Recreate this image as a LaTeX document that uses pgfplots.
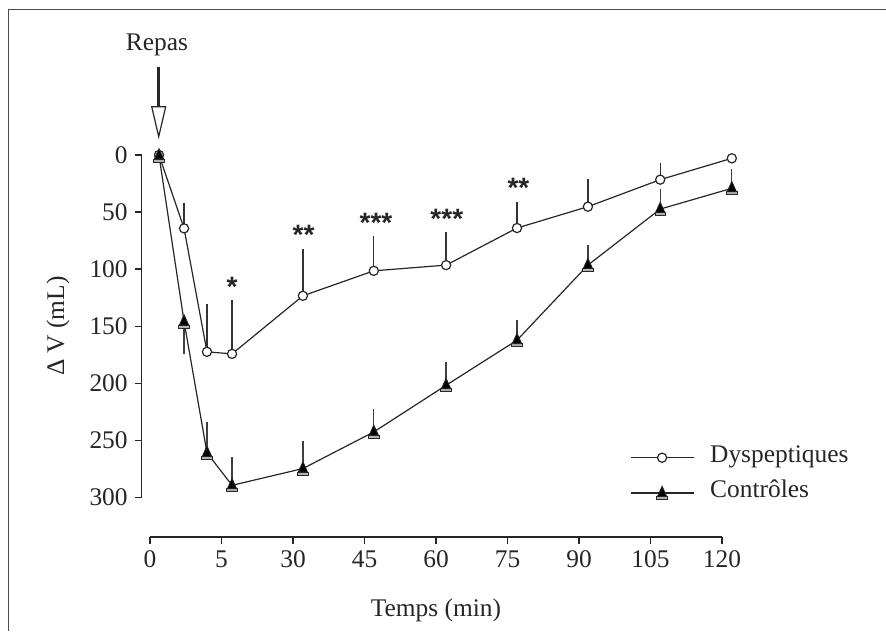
\documentclass[border=0pt]{standalone}
\usepackage{fontspec}
\setmainfont{Liberation Serif}
\newfontfamily\starfont{Liberation Sans}
\usepackage{pgfplots}
\pgfplotsset{compat=1.18}
\usepackage{pgfplotstable}

\pgfplotstableread{
u    v     ep    em
0    0     0     0
0.35 64.3  0     21.9
0.67 172.5 0     41.8
1.02 174.3 0     47
2.01 123.4 0     40.7
3.00 101.5 0     30.5
4.01 96.5  0     29
5.00 64.0  0     23
5.99 45.3  0     24.5
7.00 21.6  0     14.3
8.00 2.9   0     0
}\dysp

\pgfplotstableread{
u    v     ep    em
0    0.5   0     0
0.35 146.0 28.5  0
0.67 261.0 0     27
1.02 289.5 0     25
2.01 274.8 0     24
3.00 242.7 0     20.5
4.01 201.8 0     20
5.00 162.3 0     17.6
5.99 96.5  0     18
7.00 47.4  0     18
8.00 29.2  0     16.7
}\ctrl

\pgfdeclareplotmark{tribar}{%
  \pgfpathrectangle{\pgfpoint{-2.6pt}{-3.2pt}}{\pgfpoint{5.2pt}{1.5pt}}%
  \pgfsetfillcolor{black!30}%
  \pgfusepath{fill,stroke}%
  \pgfpathmoveto{\pgfpoint{-2.3pt}{-1.7pt}}%
  \pgfpathlineto{\pgfpoint{2.3pt}{-1.7pt}}%
  \pgfpathlineto{\pgfpoint{0pt}{3.4pt}}%
  \pgfpathclose
  \pgfsetfillcolor{black}%
  \pgfusepath{fill,stroke}%
}

\begin{document}
\begin{tikzpicture}[font=\fontsize{12.7}{15}\selectfont]
\path[use as bounding box] (0,0) rectangle (443pt,315.5pt);
\draw[black!70, line width=0.75pt] (4.15pt,0pt) -- (4.15pt,310.85pt) -- (443pt,310.85pt);

% Repas arrow
\draw[black!85, line width=1.65pt] (79.35pt,282.15pt) -- (79.35pt,262.15pt);
\draw[black!85, line width=0.6pt, fill=white] (75.85pt,262.15pt) -- (82.85pt,262.15pt) -- (79.35pt,247.15pt) -- cycle;
\node[anchor=base, text=black!85, inner sep=0pt] at (78.5pt,290.15pt) {Repas};

% x axis (separate, offset)
\begin{axis}[
  scale only axis, width=286pt, height=10pt,
  at={(75pt,47pt)}, anchor=south west,
  xmin=0, xmax=8, ymin=0, ymax=1,
  axis x line*=bottom, axis y line=none,
  xtick={0,...,8}, xticklabels={0,5,30,45,60,75,90,105,120},
  ytick=\empty,
  tick align=outside, major tick length=3.35pt,
  every tick/.style={black!85, line width=0.65pt},
  axis line style={black!85, line width=0.65pt},
  xticklabel style={text=black!85, font=\fontsize{12.7}{15}\selectfont},
  xlabel={Temps (min)},
  xlabel style={at={(rel axis cs:0.5,-3.95)}, anchor=base, text=black!85, font=\fontsize{12.7}{15}\selectfont},
]
\end{axis}

\begin{axis}[
  scale only axis, width=295.05pt, height=171.15pt,
  at={(70.85pt,66.85pt)}, anchor=south west,
  xmin=-0.2416, xmax=8, ymin=0, ymax=300, y dir=reverse,
  axis x line=none, axis y line*=left,
  xtick=\empty, ytick={0,50,...,300},
  tick align=outside, major tick length=3.5pt,
  every tick/.style={black!85, line width=0.65pt},
  axis line style={black!85, line width=0.65pt},
  yticklabel style={text=black!85, font=\fontsize{12.7}{15}\selectfont, /pgf/number format/assume math mode=true},
  ylabel={Δ V (mL)},
  ylabel style={at={(rel axis cs:-0.1418,0.5)}, anchor=center, rotate=0, text=black!85, font=\fontsize{12.7}{15}\selectfont},
  clip=false,
  legend style={at={(axis cs:6.578,280.8)}, anchor=west, draw=none, fill=none,
    inner sep=0pt, outer sep=0pt, row sep=4pt,
    font=\fontsize{12.7}{15}\selectfont, text=black!85,
    nodes={text height=0.72em, text depth=0.25em, inner sep=2pt},
    /tikz/every odd column/.append style={column sep=6pt},
    cells={anchor=west}},
  legend image code/.code={\draw[mark repeat=2,mark phase=2,#1] plot coordinates {(0pt,0pt) (15.75pt,0pt) (31.5pt,0pt)};},
]
\addplot[black!85, line width=0.6pt, mark=*, mark size=2.3pt,
  mark options={fill=white, draw=black!85, line width=0.6pt},
  error bars/.cd, y dir=both, y explicit, error mark=none,
  error bar style={black!80, line width=0.65pt}]
  table[x=u, y=v, y error plus=ep, y error minus=em] {\dysp};
\addlegendentry{Dyspeptiques}
\addplot[black!85, line width=0.6pt, mark=tribar,
  mark options={draw=black!85, line width=0.45pt},
  error bars/.cd, y dir=both, y explicit, error mark=none,
  error bar style={black!75, line width=0.65pt}]
  table[x=u, y=v, y error plus=ep, y error minus=em] {\ctrl};
\addlegendentry{Contrôles}

\node[font=\starfont\bfseries\fontsize{14}{14}\selectfont, anchor=base, text=black!85, inner sep=0pt] at (axis cs:1.02,124.3) {*};
\node[font=\starfont\bfseries\fontsize{14}{14}\selectfont, anchor=base, text=black!85, inner sep=0pt] at (axis cs:2.02,78.0) {**};
\node[font=\starfont\bfseries\fontsize{14}{14}\selectfont, anchor=base, text=black!85, inner sep=0pt] at (axis cs:3.03,68.0) {***};
\node[font=\starfont\bfseries\fontsize{14}{14}\selectfont, anchor=base, text=black!85, inner sep=0pt] at (axis cs:4.02,64.5) {***};
\node[font=\starfont\bfseries\fontsize{14}{14}\selectfont, anchor=base, text=black!85, inner sep=0pt] at (axis cs:5.02,37.3) {**};
\end{axis}
\end{tikzpicture}
\end{document}
